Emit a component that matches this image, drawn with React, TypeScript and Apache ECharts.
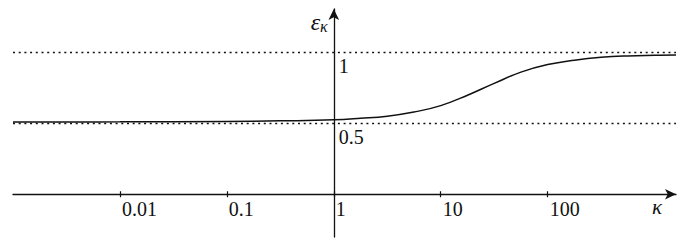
import React, { useEffect, useRef } from 'react';
import * as echarts from 'echarts';

const kappa = [0.001, 0.01, 0.1, 0.316, 1, 1.78, 3.16, 5.62, 10, 17.8, 31.6, 56.2, 100, 178, 316, 562, 1000, 1585];
const epsilon = [0.507, 0.508, 0.511, 0.515, 0.522, 0.533, 0.548, 0.577, 0.622, 0.695, 0.778, 0.857, 0.91, 0.941, 0.961, 0.971, 0.975, 0.977];
const xTicks = [0.01, 0.1, 1, 10, 100];
const yTicks = [0.5, 1];
const dottedLevels = [0.5, 1];

const FONT = 'Liberation Serif';
const INK = '#111';
const GRID_LEFT = 13;
const GRID_BOTTOM = 7;
const HEIGHT = 244;

const fmt = (v: number) => String(Number(Number(v).toPrecision(6)));

export default function App() {
  const ref = useRef<HTMLDivElement>(null);
  useEffect(() => {
    document.body.style.margin = '0';
    const chart = echarts.init(ref.current!, undefined, { renderer: 'svg' });
    const xBase = {
      type: 'log',
      logBase: 10,
      min: 0.001,
      max: Math.pow(10, 3.2),
      position: 'bottom',
      splitLine: { show: false },
      minorTick: { show: false },
    };
    const option: any = {
      animation: false,
      backgroundColor: '#fff',
      textStyle: { fontFamily: FONT },
      grid: { left: GRID_LEFT, right: 9, top: 9, bottom: GRID_BOTTOM, containLabel: false, outerBoundsMode: 'none' },
      xAxis: [
        {
          ...xBase,
          axisLine: {
            onZero: false,
            symbol: ['none', 'arrow'],
            symbolSize: [8, 11],
            lineStyle: { color: INK, width: 1.3 },
          },
          axisTick: { show: true, customValues: xTicks, length: 3, inside: false, lineStyle: { color: INK, width: 1.2 } },
          axisLabel: {
            customValues: xTicks,
            formatter: (v: number) => fmt(v),
            align: 'left',
            margin: 5,
            padding: [0, 0, 0, 2],
            fontFamily: FONT,
            fontSize: 20,
            color: INK,
          },
          name: 'κ',
          nameLocation: 'end',
          nameGap: -14,
          nameTextStyle: {
            fontFamily: FONT,
            fontStyle: 'italic',
            fontSize: 21,
            color: INK,
            align: 'right',
            verticalAlign: 'top',
            padding: [2, 0, 0, 0],
          },
        },
        {
          ...xBase,
          axisLine: { show: false, onZero: false },
          axisTick: { show: true, customValues: xTicks, length: 3, inside: true, lineStyle: { color: INK, width: 1.2 } },
          axisLabel: { show: false },
        },
      ],
      yAxis: {
        type: 'value',
        min: -0.3,
        max: 1.3,
        position: 'left',
        offset: 0,
        axisLine: {
          onZero: false,
          symbol: ['none', 'arrow'],
          symbolSize: [8, 11],
          lineStyle: { color: INK, width: 1.3 },
        },
        axisTick: { show: false },
        axisLabel: {
          customValues: yTicks,
          inside: true,
          align: 'left',
          verticalAlign: 'top',
          margin: 5,
          padding: [4, 0, 0, 0],
          formatter: (v: number) => fmt(v),
          fontFamily: FONT,
          fontSize: 20,
          color: INK,
        },
        splitLine: { show: false },
        name: '{e|ε}{k|κ}',
        nameLocation: 'end',
        nameGap: -13,
        nameTextStyle: {
          align: 'right',
          verticalAlign: 'middle',
          padding: [0, 6, 0, 0],
          rich: {
            e: { fontFamily: FONT, fontStyle: 'italic', fontSize: 24, color: INK },
            k: { fontFamily: FONT, fontStyle: 'italic', fontSize: 16, color: INK, padding: [9, 0, 0, 0] },
          },
        },
      },
      series: [
        {
          type: 'line',
          xAxisIndex: 0,
          data: kappa.map((k, i) => [k, epsilon[i]]),
          showSymbol: false,
          smooth: 0.45,
          lineStyle: { color: INK, width: 1.5 },
          markLine: {
            silent: true,
            symbol: ['none', 'none'],
            label: { show: false },
            lineStyle: { color: INK, width: 1.4, type: [2, 3.7] },
            data: dottedLevels.map((v) => ({ yAxis: v })),
          },
          z: 3,
        },
      ],
    };
    chart.setOption(option);
    const px = chart.convertToPixel({ xAxisIndex: 0 }, 1) as number;
    const py = chart.convertToPixel({ yAxisIndex: 0 }, 0) as number;
    const xOff = -(HEIGHT - GRID_BOTTOM - py);
    chart.setOption({
      yAxis: { offset: -(px - GRID_LEFT) },
      xAxis: [{ offset: xOff }, { offset: xOff }],
    });
    return () => chart.dispose();
  }, []);
  return <div ref={ref} style={{ position: 'fixed', left: 0, top: 0, width: 685, height: 244 }} />;
}
